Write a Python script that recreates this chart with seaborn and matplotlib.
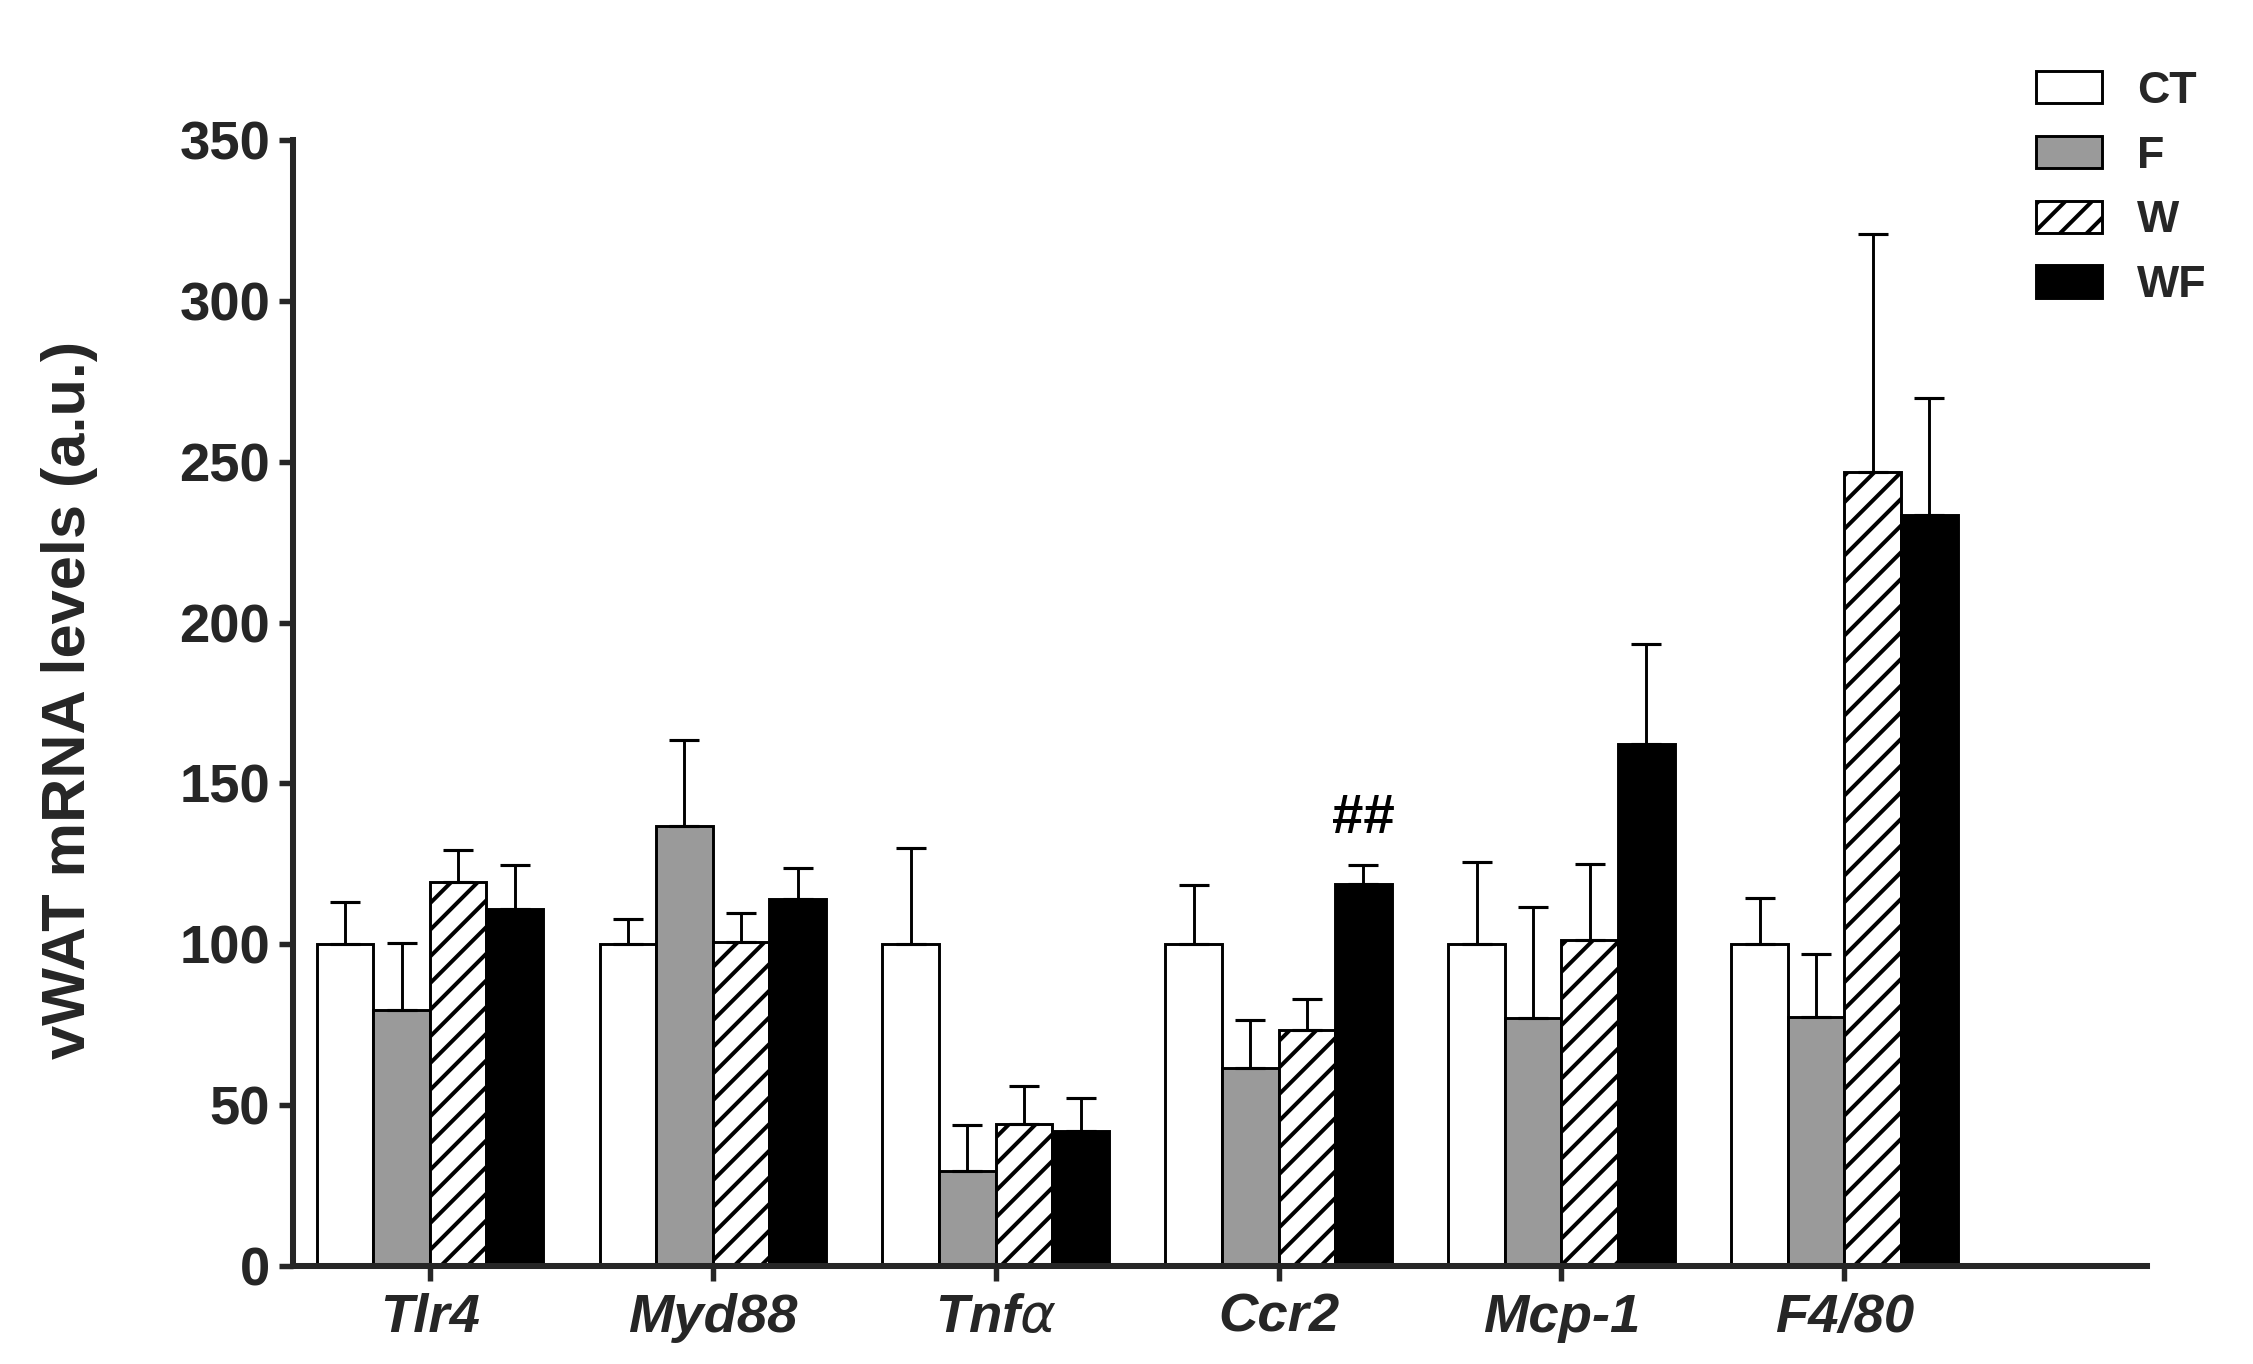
import matplotlib
matplotlib.use("Agg")
import matplotlib.pyplot as plt
import seaborn as sns
import pandas as pd
import numpy as np

# values (mean and upper SEM)
genes = ["Tlr4", "Myd88", "Tnf$\\alpha$", "Ccr2", "Mcp-1", "F4/80"]
groups = ["CT", "F", "W", "WF"]

ct_mean = [100, 100, 100, 100, 100, 100]
f_mean = [79.5, 136.7, 29.6, 61.6, 77.0, 77.4]
w_mean = [119.4, 100.7, 44.1, 73.5, 101.4, 246.7]
wf_mean = [111.0, 114.0, 42.0, 118.7, 162.3, 233.4]

ct_sem = [13.0, 8.0, 30.0, 18.5, 25.5, 14.4]
f_sem = [21.0, 26.8, 14.3, 15.0, 34.7, 19.6]
w_sem = [10.0, 9.0, 11.8, 9.4, 23.7, 74.1]
wf_sem = [13.7, 9.6, 10.2, 6.0, 31.1, 36.3]

yticks = [0, 50, 100, 150, 200, 250, 300, 350]

means = {"CT": ct_mean, "F": f_mean, "W": w_mean, "WF": wf_mean}
sems = {"CT": ct_sem, "F": f_sem, "W": w_sem, "WF": wf_sem}

rows = []
for g in groups:
    for gene, m, s in zip(genes, means[g], sems[g]):
        rows.append({"gene": gene, "group": g, "value": m, "sem": s})
df = pd.DataFrame(rows)

# dpi chosen so the hatch spacing is close to the original stripes
DPI = 160
K = 140 / DPI  # sizes below were tuned at 140 dpi

sns.set_style("ticks")
plt.rcParams["font.family"] = ["Liberation Sans", "DejaVu Sans"]
plt.rcParams["hatch.linewidth"] = 1.8
plt.rcParams["hatch.color"] = "black"

fig = plt.figure(figsize=(2253 / DPI, 1364 / DPI), dpi=DPI)
ax = fig.add_axes([0.130, 0.0718, 0.823, 0.8256])

palette = {"CT": "white", "F": "#9a9a9a", "W": "white", "WF": "black"}
sns.barplot(data=df, x="gene", y="value", hue="group", hue_order=groups,
            palette=palette, errorbar=None, edgecolor="black",
            linewidth=1.5 * K, width=0.8, ax=ax)
bars = list(ax.containers)

# hatch for W
for p in bars[2].patches:
    p.set_hatch("//")

# upper error bars only
for i, g in enumerate(groups):
    xs = [p.get_x() + p.get_width() / 2 for p in bars[i].patches]
    vals = np.array(means[g])
    errs = np.array(sems[g])
    ax.errorbar(xs, vals, yerr=[np.zeros_like(errs), errs], fmt="none",
                ecolor="black", elinewidth=1.5 * K, capsize=7.9 * K,
                capthick=1.6 * K, zorder=3)

# significance mark over Ccr2 WF
p = bars[3].patches[3]
ax.text(p.get_x() + p.get_width() / 2, 139, "##", ha="center", va="center",
        fontsize=29 * K, fontweight="bold", color="black")

ax.set_xlim(-0.484, 6.07)
ax.set_ylim(0, 350)
ax.set_yticks(yticks)
ax.set_yticklabels([str(t) for t in yticks], fontsize=28 * K, fontweight="bold")
ax.set_xlabel("")
ax.set_ylabel("vWAT mRNA levels (a.u.)", fontsize=31.5 * K, fontweight="bold")
ax.yaxis.set_label_coords(-0.105, 0.503)

for lab in ax.get_xticklabels():
    lab.set_fontsize(28 * K)
    lab.set_fontweight("bold")
    lab.set_fontstyle("italic")

ax.tick_params(axis="y", length=7.2 * K, width=2.8 * K, pad=4.5 * K)
ax.tick_params(axis="x", length=7.9 * K, width=2.8 * K, pad=5.7 * K)
sns.despine(ax=ax)
for s in ["left", "bottom"]:
    ax.spines[s].set_linewidth(3.1 * K)

ax.get_legend().remove()
handles = [c.patches[0] for c in bars]
fig.legend(handles, groups, loc="upper left", bbox_to_anchor=(0.9036, 0.948),
           frameon=False, handlelength=1.47, handleheight=0.73,
           handletextpad=0.8, labelspacing=0.53, borderpad=0, borderaxespad=0,
           prop={"weight": "bold", "size": 23 * K})

fig.savefig("out.png", dpi=DPI, facecolor="white")
